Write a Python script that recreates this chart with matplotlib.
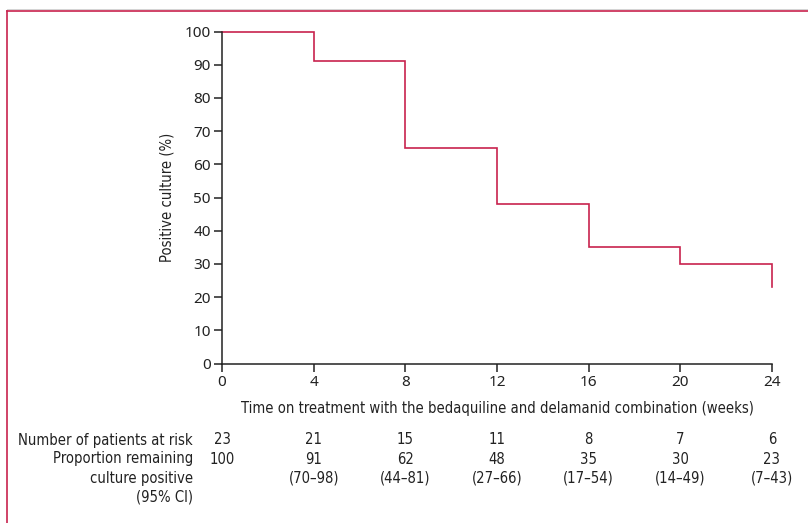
import numpy as np
import matplotlib
matplotlib.use('Agg')
import matplotlib.pyplot as plt
from matplotlib.lines import Line2D

# step curve (as drawn)
weeks = [0, 4, 8, 12, 16, 20, 24]
pct_pos = [100, 91, 65, 48, 35, 30, 23]

# table under the plot
at_risk = ['23', '21', '15', '11', '8', '7', '6']
prop_rem = ['100', '91', '62', '48', '35', '30', '23']
ci_95 = ['', '(70–98)', '(44–81)', '(27–66)', '(17–54)', '(14–49)', '(7–43)']
row_labels = ['Number of patients at risk', 'Proportion remaining',
              'culture positive', '(95% CI)']

RED = '#c8234e'
INK = '#222222'
NARROW = dict(family=['DejaVu Sans'], stretch='condensed', fontsize=10.6, color=INK)
TICKF = ['Noto Sans', 'DejaVu Sans']

W, H = 808, 523
fig = plt.figure(figsize=(W / 100, H / 100), dpi=100)

x0, x1 = 222, 772      # pixel positions of week 0 / 24
y0, y1 = 363.5, 31.5   # pixel positions of 0 / 100 %
ax = fig.add_axes([x0 / W, 1 - y0 / H, (x1 - x0) / W, (y0 - y1) / H])

# step line: hold each value until the next week, final drop at 24
xs, ys = [weeks[0]], [pct_pos[0]]
for i in range(1, len(weeks)):
    xs += [weeks[i], weeks[i]]
    ys += [pct_pos[i - 1], pct_pos[i]]
ax.plot(xs, ys, color=RED, lw=1.2, solid_joinstyle='miter', clip_on=False)

ax.set_xlim(0, 24)
ax.set_ylim(0, 100)
ax.set_xticks(weeks)
ax.set_yticks(range(0, 101, 10))
for s in ['top', 'right']:
    ax.spines[s].set_visible(False)
for s in ['left', 'bottom']:
    ax.spines[s].set_linewidth(1.1)
    ax.spines[s].set_color(INK)
ax.tick_params(length=6, width=1.1, color=INK, labelsize=11,
               pad=2, labelcolor=INK)
for lab in ax.get_xticklabels() + ax.get_yticklabels():
    lab.set_family(TICKF)

ax.set_ylabel('Positive culture (%)', labelpad=7, **NARROW)
ax.set_xlabel('Time on treatment with the bedaquiline and delamanid combination (weeks)',
              labelpad=8, **NARROW)

# risk table
row_y = [440, 459, 478, 497]
def fy(py):
    return 1 - py / H

for lab, py in zip(row_labels, row_y):
    fig.text(193 / W, fy(py), lab, ha='right', va='center', **NARROW)
for wk, a, p, c in zip(weeks, at_risk, prop_rem, ci_95):
    fx = (x0 + (x1 - x0) * wk / 24) / W
    for txt, py in zip([a, p, c], row_y[:3]):
        if txt:
            fig.text(fx, fy(py), txt, ha='center', va='center', **NARROW)

# panel frame: top and left rules
fig.add_artist(Line2D([7 / W, 1], [fy(9), fy(9)], color='#cccccc', lw=0.6))
fig.add_artist(Line2D([7 / W, 1], [fy(10.5), fy(10.5)], color=RED, lw=1.2))
fig.add_artist(Line2D([7 / W, 7 / W], [fy(10.5), 0], color=RED, lw=1.2))

plt.savefig('out.png', dpi=100)
plt.close()
